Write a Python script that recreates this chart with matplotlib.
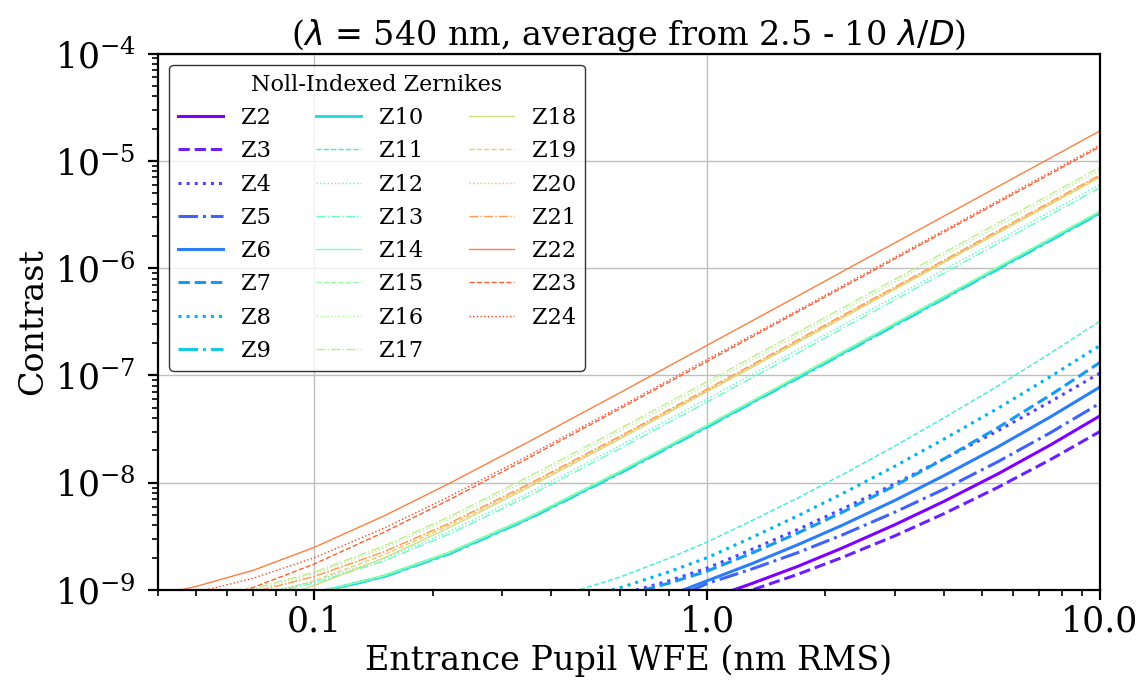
import matplotlib
matplotlib.use("Agg")
import matplotlib.pyplot as plt
from matplotlib import cm
from matplotlib.ticker import FormatStrFormatter, NullFormatter

plt.rcParams["font.family"] = "DejaVu Serif"

# entrance pupil WFE samples (nm RMS)
wfe = [0.04, 0.05, 0.07, 0.1, 0.15, 0.22, 0.35, 0.6, 1.0, 1.6, 2.5, 4.0, 6.5, 10.0]
wfe_low = [0.3, 0.45, 0.6, 0.8, 1.0, 1.3, 1.7, 2.2, 3.0, 4.0, 5.5, 7.5, 10.0]

# mean contrast 2.5-10 lam/D for each Noll-indexed Zernike
# (low orders Z2-Z8, Z11 sampled on wfe_low, the rest on wfe)
z2 = [2.6e-10, 3.6e-10, 4.7e-10, 6.3e-10, 8.2e-10, 1.15e-9, 1.66e-9, 2.45e-9, 4.05e-9, 6.68e-9, 1.21e-8, 2.26e-8, 4.2e-8]
z3 = [2.85e-10, 3.6e-10, 4.6e-10, 5.9e-10, 7.4e-10, 1.0e-9, 1.4e-9, 2.0e-9, 3.19e-9, 5.13e-9, 9.06e-9, 1.65e-8, 3.0e-8]
z4 = [5.3e-10, 7.0e-10, 9.06e-10, 1.22e-9, 1.6e-9, 2.39e-9, 3.66e-9, 5.65e-9, 9.75e-9, 1.66e-8, 3.05e-8, 5.73e-8, 1.05e-7]
z5 = [3.5e-10, 4.5e-10, 5.7e-10, 8.0e-10, 1.15e-9, 1.57e-9, 2.23e-9, 3.24e-9, 5.3e-9, 8.67e-9, 1.57e-8, 2.94e-8, 5.5e-8]
z6 = [4.0e-10, 5.1e-10, 6.5e-10, 8.9e-10, 1.22e-9, 1.76e-9, 2.64e-9, 3.99e-9, 6.82e-9, 1.16e-8, 2.16e-8, 4.13e-8, 7.8e-8]
z7 = [5.1e-10, 6.8e-10, 8.7e-10, 1.16e-9, 1.5e-9, 2.21e-9, 3.39e-9, 5.27e-9, 9.35e-9, 1.66e-8, 3.26e-8, 6.59e-8, 1.32e-7]
z8 = [5.7e-10, 7.9e-10, 1.05e-9, 1.48e-9, 2.0e-9, 3.09e-9, 4.91e-9, 7.85e-9, 1.42e-8, 2.54e-8, 4.94e-8, 9.8e-8, 1.9e-7]
z9 = [6.5e-10, 6.8e-10, 7.6e-10, 9.3e-10, 1.33e-9, 2.17e-9, 4.58e-9, 1.23e-8, 3.31e-8, 8.38e-8, 2.03e-7, 5.2e-7, 1.37e-6, 3.25e-6]
z10 = [6.5e-10, 6.8e-10, 7.6e-10, 9.3e-10, 1.34e-9, 2.2e-9, 4.64e-9, 1.25e-8, 3.36e-8, 8.5e-8, 2.07e-7, 5.29e-7, 1.39e-6, 3.3e-6]
z11 = [6.4e-10, 9.5e-10, 1.32e-9, 1.98e-9, 2.8e-9, 4.43e-9, 7.2e-9, 1.18e-8, 2.19e-8, 4.0e-8, 7.98e-8, 1.62e-7, 3.2e-7]
z12 = [7.0e-10, 7.5e-10, 8.9e-10, 1.2e-9, 1.95e-9, 3.5e-9, 7.95e-9, 2.22e-8, 6.06e-8, 1.54e-7, 3.75e-7, 9.6e-7, 2.54e-6, 6.0e-6]
z13 = [6.9e-10, 7.4e-10, 8.7e-10, 1.16e-9, 1.86e-9, 3.31e-9, 7.46e-9, 2.08e-8, 5.66e-8, 1.43e-7, 3.5e-7, 8.96e-7, 2.37e-6, 5.6e-6]
z14 = [6.5e-10, 6.8e-10, 7.6e-10, 9.4e-10, 1.35e-9, 2.22e-9, 4.7e-9, 1.27e-8, 3.41e-8, 8.64e-8, 2.1e-7, 5.37e-7, 1.42e-6, 3.35e-6]
z15 = [6.5e-10, 6.9e-10, 7.7e-10, 9.4e-10, 1.37e-9, 2.25e-9, 4.77e-9, 1.28e-8, 3.46e-8, 8.76e-8, 2.13e-7, 5.45e-7, 1.44e-6, 3.4e-6]
z16 = [7.3e-10, 8.05e-10, 1.0e-9, 1.42e-9, 2.45e-9, 4.57e-9, 1.06e-8, 3.01e-8, 8.26e-8, 2.1e-7, 5.13e-7, 1.31e-6, 3.46e-6, 8.2e-6]
z17 = [7.4e-10, 8.2e-10, 1.03e-9, 1.47e-9, 2.56e-9, 4.8e-9, 1.13e-8, 3.19e-8, 8.76e-8, 2.23e-7, 5.44e-7, 1.39e-6, 3.68e-6, 8.7e-6]
z18 = [5.1e-10, 5.75e-10, 7.4e-10, 1.1e-9, 1.98e-9, 3.79e-9, 8.98e-9, 2.56e-8, 7.04e-8, 1.79e-7, 4.38e-7, 1.12e-6, 2.96e-6, 7.0e-6]
z19 = [6.2e-10, 6.8e-10, 8.5e-10, 1.22e-9, 2.12e-9, 3.98e-9, 9.3e-9, 2.64e-8, 7.25e-8, 1.85e-7, 4.5e-7, 1.15e-6, 3.04e-6, 7.2e-6]
z20 = [7.2e-10, 7.8e-10, 9.6e-10, 1.33e-9, 2.24e-9, 4.13e-9, 9.5e-9, 2.69e-8, 7.36e-8, 1.87e-7, 4.57e-7, 1.17e-6, 3.08e-6, 7.3e-6]
z21 = [7.2e-10, 7.85e-10, 9.6e-10, 1.34e-9, 2.27e-9, 4.18e-9, 9.67e-9, 2.72e-8, 7.46e-8, 1.9e-7, 4.63e-7, 1.18e-6, 3.13e-6, 7.4e-6]
z22 = [9.0e-10, 1.08e-9, 1.53e-9, 2.5e-9, 4.88e-9, 9.8e-9, 2.39e-8, 6.9e-8, 1.91e-7, 4.86e-7, 1.19e-6, 3.04e-6, 8.03e-6, 1.9e-5]
z23 = [6.2e-10, 7.4e-10, 1.06e-9, 1.75e-9, 3.44e-9, 6.9e-9, 1.69e-8, 4.9e-8, 1.35e-7, 3.46e-7, 8.44e-7, 2.16e-6, 5.7e-6, 1.35e-5]
z24 = [8.2e-10, 9.5e-10, 1.29e-9, 2.0e-9, 3.75e-9, 7.4e-9, 1.78e-8, 5.1e-8, 1.41e-7, 3.58e-7, 8.75e-7, 2.24e-6, 5.92e-6, 1.4e-5]

contrast = [z2, z3, z4, z5, z6, z7, z8, z9, z10, z11, z12, z13, z14, z15, z16,
            z17, z18, z19, z20, z21, z22, z23, z24]
noll = list(range(2, 25))
low_order = [2, 3, 4, 5, 6, 7, 8, 11]

x_ticks = [0.1, 1.0, 10.0]
y_ticks = [1e-9, 1e-8, 1e-7, 1e-6, 1e-5, 1e-4]

styles = ["-", "--", ":", "-."]

fig = plt.figure(figsize=(11.41, 6.88), dpi=100)
ax = fig.add_axes([0.1385, 0.1424, 0.8255, 0.7798])

for i, (j, c) in enumerate(zip(noll, contrast)):
    x = wfe_low if j in low_order else wfe
    ax.plot(x, c, color=cm.rainbow(i / 24), ls=styles[i % 4],
            lw=2.2 if j <= 10 else 1, label=f"Z{j}")

ax.set_xscale("log")
ax.set_yscale("log")
ax.set_xticks(x_ticks)
ax.set_yticks(y_ticks)
ax.set_xlim(0.04, 10)
ax.set_ylim(1e-9, 1e-4)
ax.xaxis.set_major_formatter(FormatStrFormatter("%.1f"))
ax.xaxis.set_minor_formatter(NullFormatter())
ax.yaxis.set_minor_formatter(NullFormatter())
ax.grid(True, which="major", color="0.75", lw=1)

for s in ax.spines.values():
    s.set_linewidth(1.6)
ax.tick_params(which="major", length=7, width=1.6, labelsize=25)
ax.tick_params(which="minor", length=4, width=1.2)
ax.tick_params(axis="y", which="major", pad=9)

ax.set_xlabel("Entrance Pupil WFE (nm RMS)", fontsize=24)
ax.set_ylabel("Contrast", fontsize=24)
ax.set_title(r"($\lambda$ = 540 nm, average from 2.5 - 10 $\lambda/D$)", fontsize=24)

ax.legend(ncol=3, loc="upper left", fontsize=16.2, title="Noll-Indexed Zernikes",
          title_fontsize=16, edgecolor="k", framealpha=0.8)

fig.savefig("out.png", dpi=100)
